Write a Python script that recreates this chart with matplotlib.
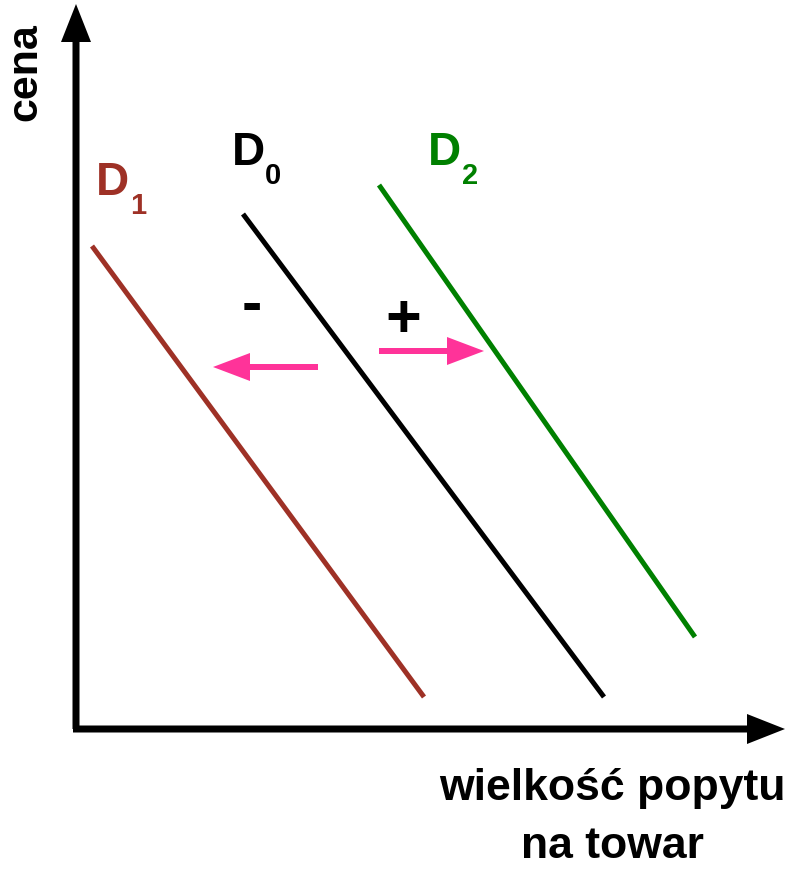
import matplotlib.pyplot as plt

plt.rcParams['font.family'] = ['Liberation Sans', 'DejaVu Sans']

# demand curves: (x_start, y_start, x_end, y_end), origin at the axis corner
curve_names = ['D1', 'D0', 'D2']
curve_x0 = [16, 167, 303]
curve_y0 = [483, 515, 544]
curve_x1 = [348, 528, 619]
curve_y1 = [32, 32, 92]
curve_colors = ['#9e3126', '#000000', '#008000']

# shift arrows
shift_x0 = [242, 303]
shift_x1 = [137, 408]
shift_y = [362, 378]
shift_signs = ['-', '+']

fig = plt.figure(figsize=(7.92, 8.70), dpi=100)
ax = fig.add_axes([0, 0, 1, 1])
ax.set_xlim(-76, 716)
ax.set_ylim(-140, 730)
ax.set_aspect('equal')
ax.axis('off')

# axes with arrows
ax.arrow(0, 0, 0, 725, width=7, head_width=30, head_length=38,
         length_includes_head=True, color='black', lw=0)
ax.arrow(-3, 0, 712, 0, width=7, head_width=30, head_length=38,
         length_includes_head=True, color='black', lw=0)

for i in range(len(curve_names)):
    ax.plot([curve_x0[i], curve_x1[i]], [curve_y0[i], curve_y1[i]],
            color=curve_colors[i], lw=3.6, solid_capstyle='butt')

# labels D with subscript
lab_x = [20, 156, 352]
lab_y = [535, 565, 565]
sub_x = [54, 189, 386]
sub_y = [516, 546, 546]
subs = ['1', '0', '2']
for i in range(3):
    ax.text(lab_x[i], lab_y[i], 'D', fontsize=33, fontweight='bold',
            color=curve_colors[i], ha='left', va='baseline')
    ax.text(sub_x[i], sub_y[i], subs[i], fontsize=21, fontweight='bold',
            color=curve_colors[i], ha='left', va='baseline')

for i in range(2):
    ax.arrow(shift_x0[i], shift_y[i], shift_x1[i] - shift_x0[i], 0,
             width=6, head_width=28, head_length=37,
             length_includes_head=True, color='#ff3399', lw=0)

ax.text(176, 423, shift_signs[0], fontsize=44, fontweight='bold', ha='center', va='center')
ax.text(327, 409, shift_signs[1], fontsize=44, fontweight='bold', ha='center', va='center')

ax.text(-51, 658, 'cena', fontsize=31, fontweight='bold', rotation=90,
        ha='center', va='center')
ax.text(536, -70, 'wielkość popytu', fontsize=32, fontweight='bold',
        ha='center', va='baseline')
ax.text(536, -128, 'na towar', fontsize=32, fontweight='bold',
        ha='center', va='baseline')

fig.savefig('out.png', dpi=100)
